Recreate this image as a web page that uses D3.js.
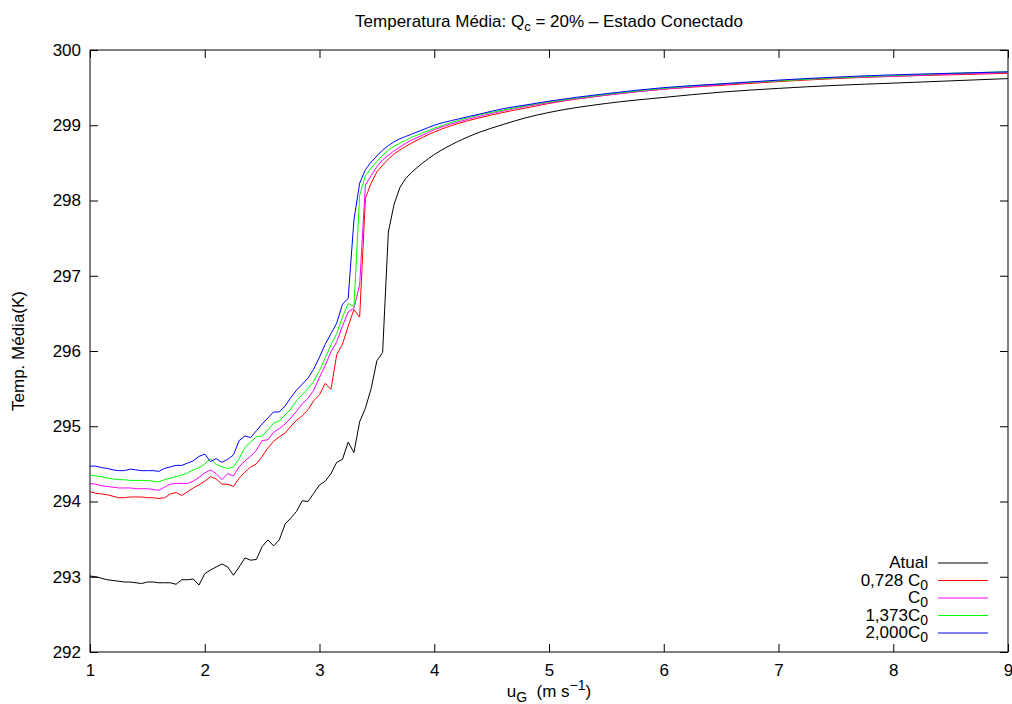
<!DOCTYPE html>
<html>
<head>
<meta charset="utf-8">
<script src="https://cdn.jsdelivr.net/npm/d3@7"></script>
<style>
  body { margin: 0; background: #fff; }
  text { font-family: "Liberation Sans", Arial, sans-serif; fill: #000; }
</style>
</head>
<body>
<div id="chart"></div>
<script>
// x values (u_G) shared by every series
var xs = [1.00, 1.05, 1.10, 1.15, 1.20, 1.25, 1.30, 1.35, 1.40, 1.45,
  1.50, 1.55, 1.60, 1.65, 1.70, 1.75, 1.80, 1.85, 1.90, 1.95,
  2.00, 2.05, 2.10, 2.15, 2.20, 2.25, 2.30, 2.35, 2.40, 2.45,
  2.50, 2.55, 2.60, 2.65, 2.70, 2.75, 2.80, 2.85, 2.90, 2.95,
  3.00, 3.05, 3.10, 3.15, 3.20, 3.25, 3.30, 3.35, 3.40, 3.45,
  3.50, 3.55, 3.60, 3.65, 3.70, 3.75, 3.80,
  3.90, 4.00, 4.20, 4.40, 4.60, 4.80, 5.00, 5.50, 6.00, 6.50, 7.00, 7.50, 8.00, 8.50, 9.00];

var atual = [293.01, 293.00, 292.98, 292.96, 292.95, 292.94, 292.93, 292.93, 292.92, 292.91,
  292.93, 292.93, 292.92, 292.92, 292.92, 292.90, 292.96, 292.96, 292.97, 292.89,
  293.04, 293.09, 293.13, 293.17, 293.13, 293.02, 293.13, 293.25, 293.22, 293.23,
  293.40, 293.49, 293.41, 293.49, 293.70, 293.78, 293.87, 294.01, 294.00, 294.11,
  294.22, 294.27, 294.37, 294.52, 294.56, 294.79, 294.65, 295.06, 295.24, 295.50,
  295.87, 295.98, 297.58, 297.95, 298.17, 298.29, 298.37,
  298.50, 298.61, 298.78, 298.91, 299.01, 299.10, 299.17, 299.29, 299.37, 299.44, 299.49, 299.53, 299.56, 299.59, 299.62];

var c0728 = [294.13, 294.11, 294.10, 294.09, 294.07, 294.05, 294.05, 294.06, 294.06, 294.06,
  294.05, 294.05, 294.04, 294.05, 294.10, 294.12, 294.08, 294.13, 294.18, 294.22,
  294.27, 294.33, 294.30, 294.23, 294.23, 294.20, 294.31, 294.39, 294.46, 294.50,
  294.60, 294.71, 294.80, 294.86, 294.91, 295.00, 295.08, 295.14, 295.22, 295.34,
  295.42, 295.57, 295.49, 295.95, 296.09, 296.33, 296.55, 296.45, 298.03, 298.23,
  298.38, 298.47, 298.55, 298.62, 298.67, 298.72, 298.76,
  298.84, 298.91, 299.02, 299.10, 299.17, 299.23, 299.29, 299.40, 299.48, 299.53, 299.58, 299.62, 299.65, 299.67, 299.69];

var c1000 = [294.24, 294.23, 294.21, 294.20, 294.19, 294.18, 294.18, 294.18, 294.17, 294.17,
  294.17, 294.16, 294.15, 294.19, 294.23, 294.24, 294.24, 294.24, 294.27, 294.32,
  294.38, 294.42, 294.37, 294.29, 294.37, 294.34, 294.46, 294.54, 294.60, 294.68,
  294.81, 294.82, 294.92, 294.97, 295.03, 295.11, 295.20, 295.30, 295.37, 295.48,
  295.65, 295.81, 295.99, 296.12, 296.33, 296.52, 296.57, 296.88, 298.21, 298.33,
  298.45, 298.54, 298.60, 298.66, 298.71, 298.76, 298.80,
  298.87, 298.94, 299.04, 299.12, 299.19, 299.25, 299.30, 299.40, 299.48, 299.54, 299.59, 299.63, 299.65, 299.68, 299.70];

var c1373 = [294.35, 294.34, 294.33, 294.31, 294.30, 294.29, 294.29, 294.28, 294.28, 294.28,
  294.28, 294.27, 294.26, 294.29, 294.31, 294.33, 294.35, 294.38, 294.42, 294.45,
  294.50, 294.57, 294.49, 294.46, 294.44, 294.46, 294.57, 294.72, 294.79, 294.86,
  294.87, 294.95, 295.04, 295.07, 295.15, 295.23, 295.34, 295.42, 295.50, 295.60,
  295.74, 295.91, 296.08, 296.23, 296.45, 296.63, 296.59, 298.07, 298.33, 298.43,
  298.52, 298.60, 298.67, 298.72, 298.76, 298.80, 298.84,
  298.90, 298.96, 299.06, 299.14, 299.20, 299.26, 299.31, 299.41, 299.49, 299.55, 299.59, 299.63, 299.66, 299.69, 299.71];

var c2000 = [294.47, 294.47, 294.45, 294.44, 294.42, 294.41, 294.41, 294.43, 294.42, 294.41,
  294.41, 294.41, 294.40, 294.44, 294.46, 294.48, 294.48, 294.51, 294.54, 294.60,
  294.63, 294.53, 294.57, 294.52, 294.56, 294.62, 294.81, 294.87, 294.85, 294.94,
  295.03, 295.11, 295.19, 295.19, 295.27, 295.38, 295.48, 295.56, 295.64, 295.76,
  295.92, 296.09, 296.23, 296.37, 296.62, 296.70, 297.74, 298.23, 298.41, 298.51,
  298.59, 298.67, 298.73, 298.78, 298.82, 298.85, 298.88,
  298.94, 299.00, 299.08, 299.15, 299.22, 299.27, 299.32, 299.42, 299.50, 299.55, 299.60, 299.64, 299.67, 299.69, 299.71];

var series = [atual, c0728, c1000, c1373, c2000];
var seriesLabels = ['Atual', '0,728 C', 'C', '1,373C', '2,000C'];
var seriesSubs = ['', '0', '0', '0', '0'];
var seriesColors = ['#000000', '#ff0000', '#ff00ff', '#00ff00', '#0000ff'];

var xTicks = [1, 2, 3, 4, 5, 6, 7, 8, 9];
var yTicks = [292, 293, 294, 295, 296, 297, 298, 299, 300];

var chart_width = 1012;
var chart_height = 704;
var plot_left = 90, plot_right = 1008, plot_top = 50, plot_bottom = 652;
var font = '"Liberation Sans", Arial, sans-serif';
// index of x = 3.8: straight segments before, smooth tail after
var split = xs.indexOf(3.80);

// scales
var x_scale = d3.scaleLinear().domain([1, 9]).range([plot_left, plot_right]);
var y_scale = d3.scaleLinear().domain([292, 300]).range([plot_bottom, plot_top]);

var svg = d3.select('#chart')
  .append('svg')
  .attr('width', chart_width)
  .attr('height', chart_height);

// axes, ticks point inwards on all four sides
function styleAxis(g) {
  g.select('.domain').remove();
  g.attr('font-size', 17).attr('font-family', font);
  g.selectAll('line').attr('stroke', '#000');
  g.selectAll('text').attr('fill', '#000');
}

svg.append('g')
  .attr('transform', 'translate(0,' + plot_bottom + ')')
  .call(d3.axisBottom(x_scale).tickValues(xTicks).tickSize(-8).tickPadding(12).tickFormat(d3.format('d')))
  .call(styleAxis);

svg.append('g')
  .attr('transform', 'translate(' + plot_left + ',0)')
  .call(d3.axisLeft(y_scale).tickValues(yTicks).tickSize(-8).tickPadding(9).tickFormat(d3.format('d')))
  .call(styleAxis);

svg.append('g')
  .attr('transform', 'translate(0,' + plot_top + ')')
  .call(d3.axisTop(x_scale).tickValues(xTicks).tickSize(-8).tickFormat(''))
  .call(styleAxis);

svg.append('g')
  .attr('transform', 'translate(' + plot_right + ',0)')
  .call(d3.axisRight(y_scale).tickValues(yTicks).tickSize(-8).tickFormat(''))
  .call(styleAxis);

svg.append('rect')
  .attr('x', plot_left)
  .attr('y', plot_top)
  .attr('width', plot_right - plot_left)
  .attr('height', plot_bottom - plot_top)
  .attr('fill', 'none')
  .attr('stroke', '#000');

// lines
svg.append('clipPath').attr('id', 'plot-clip')
  .append('rect')
  .attr('x', plot_left).attr('y', plot_top)
  .attr('width', plot_right - plot_left).attr('height', plot_bottom - plot_top);

var linePart = d3.line()
  .x((d) => x_scale(d[0]))
  .y((d) => y_scale(d[1]));
var tailPart = d3.line()
  .curve(d3.curveMonotoneX)
  .x((d) => x_scale(d[0]))
  .y((d) => y_scale(d[1]));

var plots = svg.append('g').attr('clip-path', 'url(#plot-clip)');
series.forEach(function(values, s) {
  var pts = values.map((v, i) => [xs[i], v]);
  plots.append('path')
    .attr('fill', 'none')
    .attr('stroke', seriesColors[s])
    .attr('stroke-width', 1)
    .attr('d', linePart(pts.slice(0, split + 1)) + tailPart(pts.slice(split)).replace(/^M[^A-Za-z]*/, ''));
});

// legend
var legend = svg.append('g');
seriesLabels.forEach(function(label, i) {
  var y = 563 + i * 17.5;
  var t = legend.append('text')
    .attr('x', 928)
    .attr('y', y + 5)
    .attr('text-anchor', 'end')
    .attr('font-size', 17);
  t.append('tspan').text(label);
  if (seriesSubs[i]) {
    t.append('tspan').attr('dy', 4).attr('font-size', 14).text(seriesSubs[i]);
  }
  legend.append('line')
    .attr('x1', 938).attr('x2', 988)
    .attr('y1', y).attr('y2', y)
    .attr('stroke', seriesColors[i]);
});

// title
var title = svg.append('text')
  .attr('x', (plot_left + plot_right) / 2)
  .attr('y', 27)
  .attr('text-anchor', 'middle')
  .attr('font-size', 17);
title.append('tspan').text('Temperatura Média: Q');
title.append('tspan').attr('dy', 4).attr('font-size', 13).text('c');
title.append('tspan').attr('dy', -4).text(' = 20% \u2013 Estado Conectado');

// axis titles
var xTitle = svg.append('text')
  .attr('x', (plot_left + plot_right) / 2)
  .attr('y', 697)
  .attr('text-anchor', 'middle')
  .attr('font-size', 17);
xTitle.append('tspan').text('u');
xTitle.append('tspan').attr('dy', 5).attr('font-size', 14).text('G');
xTitle.append('tspan').attr('dy', -5).text('\u00a0 (m s');
xTitle.append('tspan').attr('dy', -7).attr('font-size', 14).text('\u22121');
xTitle.append('tspan').attr('dy', 7).text(')');

svg.append('text')
  .attr('transform', 'translate(24,' + ((plot_top + plot_bottom) / 2) + ') rotate(-90)')
  .attr('text-anchor', 'middle')
  .attr('font-size', 17)
  .text('Temp. Média(K)');
</script>
</body>
</html>
